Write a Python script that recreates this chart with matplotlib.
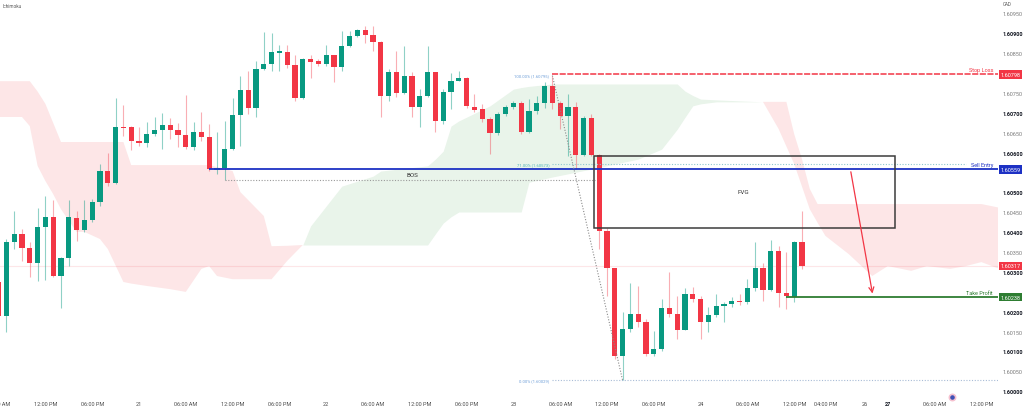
import numpy as np
import matplotlib
matplotlib.use("Agg")
import matplotlib.pyplot as plt
from matplotlib.patches import Rectangle

plt.rcParams['font.family'] = ['Roboto', 'DejaVu Sans']

# hourly bars, 0 = midnight of the 21st
bar_pos = list(range(-18, 86))

opens = [
    1.60276, 1.60190, 1.60377, 1.60397, 1.60361, 1.60324, 1.60414, 1.60439, 1.60291, 1.60336,
    1.60437, 1.60407, 1.60432, 1.60477, 1.60555, 1.60525, 1.60666, 1.60666, 1.60631, 1.60625,
    1.60648, 1.60658, 1.60671, 1.60658, 1.60646, 1.60615, 1.60653, 1.60641, 1.60558, 1.60563,
    1.60610, 1.60696, 1.60759, 1.60714, 1.60812, 1.60823, 1.60853, 1.60855, 1.60822, 1.60738,
    1.60837, 1.60831, 1.60825, 1.60847, 1.60817, 1.60869, 1.60895, 1.60910, 1.60898, 1.60880,
    1.60744, 1.60805, 1.60751, 1.60795, 1.60715, 1.60743, 1.60803, 1.60682, 1.60755, 1.60782,
    1.60789, 1.60717, 1.60711, 1.60686, 1.60651, 1.60698, 1.60716, 1.60726, 1.60654, 1.60706,
    1.60725, 1.60770, 1.60725, 1.60693, 1.60716, 1.60595, 1.60688, 1.60595, 1.60405, 1.60310,
    1.60091, 1.60158, 1.60195, 1.60176, 1.60095, 1.60107, 1.60210, 1.60195, 1.60156, 1.60247,
    1.60233, 1.60175, 1.60193, 1.60216, 1.60220, 1.60228, 1.60225, 1.60260, 1.60311, 1.60257,
    1.60353, 1.60248, 1.60238, 1.60376,
]
closes = [
    1.60190, 1.60377, 1.60397, 1.60361, 1.60324, 1.60414, 1.60439, 1.60291, 1.60336, 1.60439,
    1.60407, 1.60432, 1.60477, 1.60555, 1.60525, 1.60666, 1.60663, 1.60631, 1.60625, 1.60648,
    1.60658, 1.60671, 1.60658, 1.60646, 1.60615, 1.60653, 1.60641, 1.60560, 1.60563, 1.60610,
    1.60696, 1.60759, 1.60714, 1.60812, 1.60823, 1.60854, 1.60855, 1.60822, 1.60738, 1.60837,
    1.60830, 1.60825, 1.60847, 1.60817, 1.60869, 1.60895, 1.60910, 1.60898, 1.60879, 1.60744,
    1.60805, 1.60751, 1.60795, 1.60715, 1.60743, 1.60803, 1.60682, 1.60755, 1.60782, 1.60789,
    1.60718, 1.60709, 1.60686, 1.60651, 1.60698, 1.60716, 1.60726, 1.60654, 1.60706, 1.60726,
    1.60770, 1.60725, 1.60693, 1.60716, 1.60595, 1.60688, 1.60595, 1.60405, 1.60310, 1.60091,
    1.60158, 1.60195, 1.60176, 1.60095, 1.60107, 1.60210, 1.60195, 1.60156, 1.60247, 1.60233,
    1.60175, 1.60193, 1.60216, 1.60220, 1.60228, 1.60225, 1.60260, 1.60311, 1.60257, 1.60353,
    1.60248, 1.60240, 1.60376, 1.60317,
]
highs = [
    1.60281, 1.60384, 1.60454, 1.60409, 1.60377, 1.60462, 1.60492, 1.60482, 1.60339, 1.60482,
    1.60454, 1.60482, 1.60485, 1.60573, 1.60600, 1.60739, 1.60721, 1.60668, 1.60666, 1.60678,
    1.60691, 1.60701, 1.60688, 1.60676, 1.60746, 1.60678, 1.60703, 1.60673, 1.60653, 1.60681,
    1.60739, 1.60794, 1.60807, 1.60832, 1.60905, 1.60902, 1.60872, 1.60872, 1.60847, 1.60840,
    1.60847, 1.60837, 1.60872, 1.60848, 1.60908, 1.60908, 1.60912, 1.60919, 1.60919, 1.60883,
    1.60811, 1.60858, 1.60870, 1.60803, 1.60761, 1.60870, 1.60805, 1.60761, 1.60801, 1.60807,
    1.60791, 1.60749, 1.60724, 1.60691, 1.60703, 1.60721, 1.60731, 1.60732, 1.60736, 1.60744,
    1.60779, 1.60795, 1.60731, 1.60749, 1.60729, 1.60693, 1.60698, 1.60598, 1.60411, 1.60312,
    1.60200, 1.60273, 1.60267, 1.60183, 1.60153, 1.60233, 1.60302, 1.60241, 1.60260, 1.60263,
    1.60241, 1.60213, 1.60246, 1.60226, 1.60238, 1.60246, 1.60283, 1.60377, 1.60324, 1.60382,
    1.60367, 1.60351, 1.60380, 1.60455,
]
lows = [
    1.60178, 1.60150, 1.60359, 1.60329, 1.60288, 1.60278, 1.60281, 1.60288, 1.60211, 1.60316,
    1.60379, 1.60402, 1.60427, 1.60467, 1.60517, 1.60522, 1.60643, 1.60608, 1.60618, 1.60615,
    1.60643, 1.60610, 1.60636, 1.60615, 1.60610, 1.60608, 1.60631, 1.60555, 1.60548, 1.60533,
    1.60608, 1.60618, 1.60698, 1.60691, 1.60809, 1.60807, 1.60807, 1.60813, 1.60732, 1.60735,
    1.60788, 1.60820, 1.60820, 1.60778, 1.60806, 1.60866, 1.60891, 1.60877, 1.60858, 1.60692,
    1.60732, 1.60740, 1.60749, 1.60690, 1.60667, 1.60740, 1.60652, 1.60673, 1.60711, 1.60782,
    1.60713, 1.60703, 1.60678, 1.60598, 1.60646, 1.60693, 1.60711, 1.60648, 1.60651, 1.60698,
    1.60713, 1.60711, 1.60661, 1.60593, 1.60560, 1.60593, 1.60593, 1.60359, 1.60241, 1.60082,
    1.60029, 1.60150, 1.60163, 1.60090, 1.60090, 1.60102, 1.60188, 1.60133, 1.60155, 1.60226,
    1.60133, 1.60151, 1.60188, 1.60176, 1.60213, 1.60218, 1.60220, 1.60253, 1.60229, 1.60253,
    1.60213, 1.60208, 1.60225, 1.60309,
]

# Ichimoku cloud (leading spans)
cloud_pos = [-18, -15, -14, -13, -12, -11, -10, -8, -7, -5, -4, -2, -1, 1, 4, 6, 8, 9, 10, 12,
             13, 16, 17, 19, 21, 22, 24, 26, 30, 31, 37, 38, 39, 40, 41, 45, 48, 49, 50, 53,
             58, 64, 67, 69, 70, 71, 72, 74, 80, 82, 83, 84, 85, 86, 87, 88, 91, 94, 96, 99,
             101, 104, 106, 108, 111]
span_a = [1.60691, 1.60691, 1.60668, 1.60568, 1.60530, 1.60497, 1.60459, 1.60402, 1.60402, 1.60384,
          1.60359, 1.60276, 1.60272, 1.60266, 1.60258, 1.60251, 1.60309, 1.60316, 1.60291, 1.60283,
          1.60283, 1.60283, 1.60283, 1.60329, 1.60369, 1.60417, 1.60467, 1.60517, 1.60542, 1.60555,
          1.60568, 1.60585, 1.60605, 1.60668, 1.60681, 1.60719, 1.60761, 1.60765, 1.60768, 1.60774,
          1.60774, 1.60774, 1.60774, 1.60774, 1.60756, 1.60745, 1.60736, 1.60734, 1.60729, 1.60661,
          1.60617, 1.60573, 1.60516, 1.60459, 1.60425, 1.60392, 1.60346, 1.60291, 1.60316, 1.60304,
          1.60316, 1.60309, 1.60316, 1.60326, 1.60304]
span_b = [1.60781, 1.60781, 1.60781, 1.60755, 1.60724, 1.60676, 1.60628, 1.60628, 1.60628, 1.60628,
          1.60628, 1.60628, 1.60570, 1.60570, 1.60570, 1.60570, 1.60570, 1.60570, 1.60565, 1.60555,
          1.60502, 1.60442, 1.60366, 1.60367, 1.60369, 1.60369, 1.60369, 1.60369, 1.60369, 1.60369,
          1.60369, 1.60397, 1.60424, 1.60440, 1.60452, 1.60452, 1.60452, 1.60452, 1.60527, 1.60540,
          1.60560, 1.60585, 1.60610, 1.60660, 1.60690, 1.60719, 1.60724, 1.60729, 1.60729, 1.60729,
          1.60729, 1.60648, 1.60585, 1.60510, 1.60472, 1.60472, 1.60472, 1.60472, 1.60472, 1.60472,
          1.60472, 1.60472, 1.60472, 1.60472, 1.60460]

price_ticks = [1.60000, 1.60050, 1.60100, 1.60150, 1.60200, 1.60300, 1.60350, 1.60400,
               1.60450, 1.60500, 1.60600, 1.60650, 1.60700, 1.60750, 1.60850,
               1.60900, 1.60950]
time_ticks = [-18, -12, -6, 0, 6, 12, 18, 24, 30, 36, 42, 48, 54, 60, 66, 72, 78, 84, 88, 93, 96, 102, 108]
time_labels = ["06:00 AM", "12:00 PM", "06:00 PM", "21", "06:00 AM", "12:00 PM", "06:00 PM", "22",
               "06:00 AM", "12:00 PM", "06:00 PM", "23", "06:00 AM", "12:00 PM", "06:00 PM", "24",
               "06:00 AM", "12:00 PM", "04:00 PM", "26", "27", "06:00 AM", "12:00 PM"]

stop_loss = 1.60798
sell_entry = 1.60559
take_profit = 1.60238
last_price = 1.60317
bos_low = 1.60533
fib_high, fib_low = 1.60795, 1.60029
fib_71 = 1.60573
fvg_top, fvg_bottom = 1.60592, 1.60411

GREEN = '#089981'
RED = '#f23645'
BLUE = '#1d31c4'
TPGREEN = '#2e7d32'

fig = plt.figure(figsize=(10.24, 4.14), dpi=100)
ax = fig.add_axes([0, 15 / 414, 998 / 1024, 399 / 414])
x_right = 110.13
ax.set_xlim(-17.82, x_right)
ax.set_ylim(1.599842, 1.609877)
for s in ax.spines.values():
    s.set_visible(False)
ax.set_xticks([])
ax.set_yticks([])

# cloud
ca = np.array(span_a)
cb = np.array(span_b)
ax.fill_between(cloud_pos, ca, cb, where=ca >= cb, interpolate=True, color='#e9f4ea', lw=0, zorder=1)
ax.fill_between(cloud_pos, ca, cb, where=ca <= cb, interpolate=True, color='#fde6e7', lw=0, zorder=1)

# candles
x = np.array(bar_pos)
o = np.array(opens)
c = np.array(closes)
up = c >= o
body_col = np.where(up, GREEN, RED)
wick_col = [(0.03, 0.6, 0.51, 0.45) if u else (0.95, 0.21, 0.27, 0.4) for u in up]
ax.vlines(x, lows, highs, colors=wick_col, linewidth=0.8, zorder=3)
ax.bar(x, np.maximum(np.abs(c - o), 0.00003), bottom=np.minimum(o, c), width=0.66,
       color=body_col, linewidth=0, zorder=4)

# lines
ax.axhline(last_price, color=RED, alpha=0.12, lw=0.8, zorder=2)
ax.hlines(sell_entry, 9, x_right, color=BLUE, lw=1.3, zorder=5)
ax.hlines(bos_low, 11, 58.5, color='#9a9a9a', lw=0.8, linestyles=[(0, (1, 1.5))], zorder=5)
ax.text(35, (sell_entry + bos_low) / 2, "BOS", fontsize=4.5, color='#333333', ha='center', va='center', zorder=6)

ax.hlines(stop_loss, 53, x_right, color=RED, lw=1.1, linestyles=[(0, (4, 1))], zorder=5)
ax.hlines(fib_71, 53, 106, color='#8fc7cf', lw=0.8, linestyles=[(0, (1, 1.5))], zorder=5)
ax.hlines(fib_low, 53, x_right, color='#a9bcd6', lw=0.8, linestyles=[(0, (1, 1.5))], zorder=5)
ax.plot([53, 62], [fib_high, fib_low], color='#8a8a8a', lw=0.8, ls=(0, (1, 1.5)), zorder=5)
ax.text(52.6, fib_high, "100.00% (1.60795)", fontsize=3, color='#6f9fd8', ha='right', va='center', zorder=6)
ax.text(52.6, fib_71, "71.00% (1.60573)", fontsize=3, color='#4fb3b8', ha='right', va='center', zorder=6)
ax.text(52.6, fib_low, "0.00% (1.60029)", fontsize=3, color='#6f9fd8', ha='right', va='center', zorder=6)

ax.add_patch(Rectangle((58.3, fvg_bottom), 96.9 - 58.3, fvg_top - fvg_bottom, fill=False,
                       ec='#3c3c3c', lw=1.1, zorder=5))
ax.text(77.5, 1.60504, "FVG", fontsize=4.5, color='#333333', ha='center', va='center', zorder=6)

ax.hlines(take_profit, 83, x_right, color=TPGREEN, lw=1.3, zorder=5)
ax.annotate('', xy=(94.1, 1.60240), xytext=(91.2, 1.60560),
            arrowprops=dict(arrowstyle='->', color=RED, lw=0.9, mutation_scale=9), zorder=6)

ax.text(109.5, stop_loss + 0.00005, "Stop Loss", fontsize=4, color=RED, ha='right', va='bottom', zorder=6)
ax.text(109.5, sell_entry + 0.00005, "Sell Entry", fontsize=4, color=BLUE, ha='right', va='bottom', zorder=6)
ax.text(109.5, take_profit + 0.00005, "Take Profit", fontsize=4, color=TPGREEN, ha='right', va='bottom', zorder=6)

# price scale
ytr = ax.get_yaxis_transform()
for p in price_ticks:
    major = round(p * 10000) % 10 == 0
    ax.text(1.005, p, f"{p:.5f}", transform=ytr, fontsize=4, ha='left', va='center',
            color='#131722' if major else '#7a7a7a', fontweight='bold' if major else 'normal',
            clip_on=False, zorder=7)
for p, col in [(stop_loss, RED), (sell_entry, BLUE), (last_price, RED), (take_profit, TPGREEN)]:
    ax.text(1.0025, p, f"{p:.5f}", transform=ytr, fontsize=4, ha='left', va='center', color='white',
            bbox=dict(boxstyle='square,pad=0.3', fc=col, ec='none'), clip_on=False, zorder=8)
ax.text(1.005, 1 - 5 / 399, "CAD", transform=ax.transAxes, fontsize=3.3, color='#555555',
        ha='left', va='center', clip_on=False)
ax.text(0.003, 1 - 6 / 399, "Ichimoku", transform=ax.transAxes, fontsize=3.3, color='#555555',
        ha='left', va='center')

# time scale
xtr = ax.get_xaxis_transform()
for t, lab in zip(time_ticks, time_labels):
    ax.text(t, -6 / 399, lab, transform=xtr, fontsize=4, ha='center', va='center',
            color='#131722' if lab == '27' else '#4a4a4a',
            fontweight='bold' if lab == '27' else 'normal', clip_on=False)

ax.plot(104.2, 1.59987, 'o', ms=4.5, mfc='#3f51b5', mec='#f6c1cf', mew=1.2, clip_on=False, zorder=8)

fig.savefig("out.png", dpi=100, facecolor='white')
